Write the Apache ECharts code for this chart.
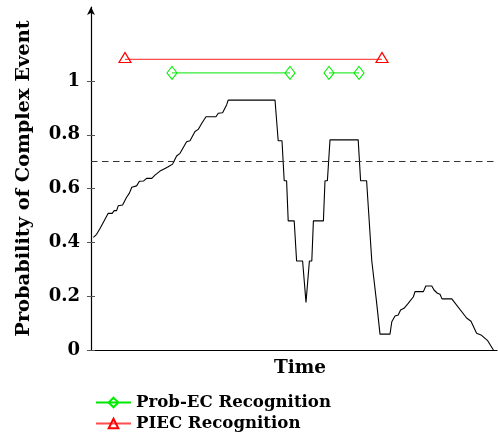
<!DOCTYPE html>
<html><head><meta charset="utf-8">
<script src="https://cdn.jsdelivr.net/npm/echarts@6/dist/echarts.min.js"></script>
<style>html,body{margin:0;padding:0;background:#fff}#c{width:498px;height:436px}</style>
</head><body><div id="c"></div>
<script>
// ---- data ----
const curveTime = [0.6,1.4,2.25,3.5,4.3,5.3,5.8,6.4,6.8,7.9,8.9,9.6,10.2,10.6,11.4,12.1,13.1,13.9,15.2,16,17.25,18.5,19.3,20.4,21.4,22.25,23.9,24.75,26,26.8,27.7,28.75,31.25,31.8,32.9,33.9,34.3,46,46.8,47.75,48.3,48.9,49.3,50.8,51.4,52.9,53.75,54.6,55.2,55.6,58.1,58.5,59.1,59.75,66.8,67.4,68.9,70.2,70.6,71.4,71.8,72.25,74.75,75.2,76,76.8,77.4,78.25,79.3,80.6,81,83.1,83.7,85.2,85.75,86.6,87.25,87.75,90.2,93.9,95,96.4,97.5,99.1,100.6];
const curveProb = [0.419,0.43,0.452,0.486,0.508,0.508,0.518,0.518,0.536,0.539,0.568,0.583,0.605,0.607,0.61,0.627,0.628,0.638,0.638,0.65,0.665,0.675,0.681,0.691,0.721,0.731,0.774,0.778,0.812,0.82,0.843,0.867,0.867,0.88,0.882,0.911,0.929,0.929,0.778,0.778,0.629,0.629,0.48,0.48,0.331,0.331,0.177,0.331,0.331,0.48,0.48,0.629,0.629,0.781,0.781,0.629,0.629,0.331,0.331,0.177,0.177,0.059,0.059,0.105,0.126,0.13,0.149,0.155,0.173,0.198,0.217,0.217,0.238,0.238,0.223,0.211,0.207,0.19,0.19,0.119,0.107,0.062,0.056,0.036,0];
const threshold = 0.7;
const piecInterval = [8.5, 72.75];
const piecLevel = 1.08;
const probEcIntervals = [[20.25, 49.75], [59.5, 67]];
const probEcLevel = 1.03;
const yTicks = [0, 0.2, 0.4, 0.6, 0.8, 1];
const seriesNames = ['Prob-EC Recognition', 'PIEC Recognition'];
const xAxisName = 'Time';
const yAxisName = 'Probability of Complex Event';
const X_MAX = 101.5, Y_MAX = 1.275;

// ---- build ----
const FONT = 'DejaVu Serif';
const curveData = curveTime.map((t, i) => [t, curveProb[i]]);
const piecData = piecInterval.map(t => [t, piecLevel]);
const probEcData = [];
probEcIntervals.forEach((iv, k) => {
  if (k > 0) probEcData.push([(probEcIntervals[k - 1][1] + iv[0]) / 2, '-']);
  probEcData.push([iv[0], probEcLevel], [iv[1], probEcLevel]);
});

const legendText = {fontFamily: FONT, fontWeight: 'bold', fontSize: 16.6, color: '#000', lineHeight: 16};
function legendRow(name, top) {
  return {orient: 'horizontal', left: 95, top: top, padding: 0, itemWidth: 35, itemHeight: 12,
    textStyle: legendText, data: [name]};
}

const chart = echarts.init(document.getElementById('c'), null, {renderer: 'canvas'});
chart.setOption({
  animation: false,
  grid: {left: 91, right: 1, top: 7, bottom: 86},
  xAxis: {
    type: 'value', min: 0, max: X_MAX,
    name: xAxisName, nameLocation: 'middle', nameGap: 9,
    nameTextStyle: {fontFamily: FONT, fontWeight: 'bold', fontSize: 18.5, color: '#000', verticalAlign: 'top', padding: [0, 0, 0, 12]},
    axisLine: {lineStyle: {color: '#000', width: 1.2}},
    axisTick: {show: false}, axisLabel: {show: false}, splitLine: {show: false}
  },
  yAxis: [{
    type: 'value', min: 0, max: Y_MAX,
    name: yAxisName, nameLocation: 'middle', nameRotate: 90, nameGap: 58,
    nameTextStyle: {fontFamily: FONT, fontWeight: 'bold', fontSize: 19.4, color: '#000'},
    axisLine: {show: true, symbol: ['none', 'arrow'], symbolSize: [6, 8], lineStyle: {color: '#000', width: 1.2}},
    axisTick: {show: true, length: 4, inside: false, customValues: yTicks, lineStyle: {color: '#555'}},
    axisLabel: {customValues: yTicks, margin: 11, fontFamily: FONT, fontWeight: 'bold', fontSize: 18, color: '#000'},
    splitLine: {show: false}
  }, {
    type: 'value', min: 0, max: Y_MAX, position: 'left',
    axisLine: {show: false},
    axisTick: {show: true, inside: true, length: 4, customValues: yTicks, lineStyle: {color: '#555'}},
    axisLabel: {show: false}, splitLine: {show: false}
  }],
  legend: [legendRow(seriesNames[0], 394), legendRow(seriesNames[1], 415)],
  series: [{
    type: 'line', name: 'curve', data: curveData, symbol: 'none',
    lineStyle: {color: '#000', width: 1.1}, itemStyle: {color: '#000'},
    markLine: {silent: true, symbol: 'none', label: {show: false},
      lineStyle: {color: '#333', type: [6.5, 4.5], width: 1.1}, data: [{yAxis: threshold}]}
  }, {
    type: 'line', name: seriesNames[1], data: piecData,
    symbol: 'triangle', symbolSize: [12, 10], symbolOffset: [0, -2], showAllSymbol: true,
    lineStyle: {color: '#ff4d4d', width: 1.3},
    itemStyle: {color: 'rgba(255,255,255,0)', borderColor: '#ff0000', borderWidth: 1.2}
  }, {
    type: 'line', name: seriesNames[0], data: probEcData, connectNulls: false,
    symbol: 'diamond', symbolSize: [10, 13], showAllSymbol: true,
    lineStyle: {color: '#00e600', width: 1},
    itemStyle: {color: 'rgba(255,255,255,0)', borderColor: '#00ee00', borderWidth: 1.1}
  }]
});
</script></body></html>
